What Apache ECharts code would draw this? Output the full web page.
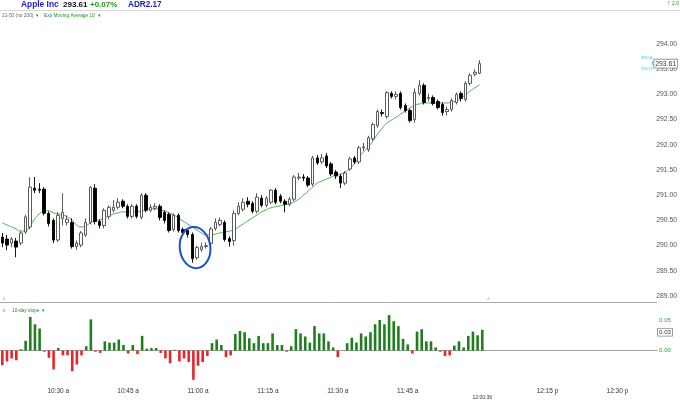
<!DOCTYPE html>
<html><head><meta charset="utf-8">
<script src="https://cdn.jsdelivr.net/npm/echarts@6/dist/echarts.min.js"></script>
<style>html,body{margin:0;padding:0;background:#fff}#c{width:680px;height:400px}</style>
</head><body><div id="c"></div>
<script>
// ---- data (1-minute bars, first bar 10:18) ----
const opens = [290.17,290.13,290.05,290.09,290.05,290.27,290.37,291.14,291.12,291.12,
290.64,290.50,290.11,290.54,290.46,290.46,289.98,290.01,290.21,290.46,
291.14,290.48,290.40,290.58,290.70,290.76,290.88,290.78,290.58,290.78,
290.56,291.00,290.70,290.74,290.78,290.66,290.62,290.32,290.60,290.32,
290.30,290.22,289.76,289.92,289.98,290.04,290.34,290.42,290.46,290.14,
290.10,290.64,290.72,290.88,290.84,290.68,290.94,290.80,290.86,291.10,
290.98,290.88,290.82,290.92,291.34,291.36,291.34,291.22,291.74,291.66,
291.78,291.62,291.46,291.38,291.24,291.52,291.74,291.66,291.94,291.90,
292.12,292.38,292.64,292.56,293.02,292.96,293.02,292.78,292.68,292.50,
293.02,293.18,292.92,292.94,292.86,292.80,292.66,292.70,292.84,293.02,
292.90,293.22,293.40,293.42];
const closes = [290.05,290.01,290.13,289.97,290.25,290.57,291.16,291.10,291.10,290.64,
290.44,290.11,290.60,290.66,290.52,289.98,290.05,290.25,290.46,291.16,
290.48,290.40,290.70,290.76,290.76,290.86,290.78,290.58,290.78,290.58,
291.00,290.70,290.76,290.78,290.56,290.50,290.30,290.60,290.30,290.26,
290.22,289.74,289.96,289.98,290.00,290.33,290.46,290.50,290.12,290.08,
290.64,290.78,290.86,290.82,290.68,290.96,290.80,290.94,291.10,290.86,
290.88,290.82,290.92,291.36,291.36,291.34,291.20,291.74,291.64,291.74,
291.58,291.42,291.38,291.24,291.44,291.72,291.66,291.94,291.96,292.14,
292.40,292.66,292.62,293.04,292.96,293.00,292.74,292.68,292.48,293.04,
293.18,292.84,292.94,292.82,292.74,292.64,292.70,292.88,293.00,292.92,
293.22,293.38,293.44,293.61];
const lows = [289.97,289.91,289.97,289.77,290.01,290.23,290.33,291.04,291.04,290.60,
290.38,290.05,290.07,290.40,290.40,289.94,289.92,289.97,290.17,290.42,
290.42,290.34,290.34,290.52,290.66,290.72,290.74,290.54,290.54,290.54,
290.52,290.66,290.66,290.70,290.50,290.44,290.26,290.28,290.26,290.20,
290.16,289.66,289.72,289.88,289.94,290.00,290.30,290.38,290.08,289.98,
290.00,290.60,290.68,290.76,290.64,290.64,290.76,290.76,290.82,290.82,
290.84,290.66,290.78,290.88,291.30,291.28,291.16,291.18,291.60,291.62,
291.54,291.38,291.32,291.14,291.20,291.48,291.62,291.62,291.88,291.86,
292.08,292.34,292.56,292.52,292.92,292.90,292.70,292.64,292.44,292.44,
292.98,292.80,292.86,292.78,292.70,292.58,292.58,292.66,292.80,292.86,
292.86,293.18,293.36,293.40];
const highs = [290.25,290.21,290.17,290.15,290.29,290.61,291.36,291.36,291.24,291.16,
290.68,290.54,290.66,291.04,290.60,290.54,290.10,290.29,290.54,291.18,
291.22,290.52,290.74,290.80,290.90,290.94,290.92,290.82,290.82,290.82,
291.04,291.04,290.82,290.84,290.82,290.70,290.66,290.64,290.64,290.36,
290.34,290.26,290.00,290.06,290.06,290.37,290.54,290.56,290.50,290.18,
290.70,290.86,290.94,290.96,290.88,291.04,291.00,290.98,291.12,291.14,
291.02,290.92,290.96,291.40,291.44,291.42,291.38,291.78,291.80,291.82,
291.84,291.66,291.50,291.42,291.48,291.76,291.78,291.98,292.04,292.18,
292.44,292.70,292.70,293.06,293.06,293.06,293.06,292.82,292.72,293.12,
293.28,293.22,293.02,292.98,292.90,292.84,292.76,292.92,293.04,293.06,
293.26,293.42,293.50,293.68];
const ema10 = [290.45,290.41,290.37,290.33,290.29,290.29,290.39,290.53,290.63,290.69,
290.69,290.65,290.63,290.61,290.57,290.51,290.41,290.37,290.39,290.45,
290.49,290.51,290.55,290.59,290.63,290.65,290.67,290.67,290.67,290.67,
290.69,290.71,290.73,290.73,290.71,290.69,290.65,290.61,290.55,290.49,
290.43,290.37,290.31,290.25,290.21,290.21,290.23,290.25,290.27,290.29,
290.31,290.37,290.43,290.49,290.55,290.61,290.67,290.71,290.75,290.77,
290.79,290.81,290.83,290.87,290.92,291.00,291.08,291.16,291.24,291.28,
291.32,291.36,291.40,291.42,291.46,291.54,291.62,291.76,291.86,291.96,
292.08,292.21,292.33,292.43,292.49,292.55,292.61,292.67,292.73,292.79,
292.81,292.83,292.83,292.83,292.83,292.83,292.83,292.85,292.87,292.93,
292.99,293.07,293.13,293.19];
const slope10 = [-0.024,-0.018,-0.013,-0.016,0.002,0.016,0.055,0.043,0.036,-0.002,
-0.012,-0.031,0.004,-0.008,-0.008,-0.034,-0.023,-0.008,0.007,0.051,
-0.002,-0.004,0.015,0.013,0.013,0.018,0.009,-0.005,0.009,-0.006,
0.024,0.003,0.004,0.004,-0.004,-0.013,-0.021,0.001,-0.018,-0.013,
-0.019,-0.048,-0.025,-0.019,-0.009,0.012,0.018,0.009,-0.011,-0.008,
0.027,0.032,0.030,0.020,0.012,0.024,0.012,0.012,0.028,0.009,
0.009,-0.002,0.007,0.035,0.028,0.023,0.013,0.040,0.028,0.028,
0.015,0.005,-0.011,0.000,0.012,0.021,0.013,0.028,0.023,0.030,
0.043,0.050,0.043,0.058,0.048,0.040,0.019,0.010,-0.005,0.031,
0.035,0.015,0.015,0.005,-0.002,-0.009,-0.008,0.008,0.015,0.005,
0.024,0.031,0.025,0.034];
const slotCount = 141;                 // one slot per minute, 10:18 .. 12:38
const timeLabelSlots = [12,27,42,57,72,87,103,117,132];
const timeLabels = ['10:30 a','10:45 a','11:00 a','11:15 a','11:30 a','11:45 a','12:00:39','12:15 p','12:30 p'];
const nowLabel = '12:00:39';
const bidAsk = ['293.64','293.57'];
const lastSlopeText = '0.03';
const circledSlot = 41.6, circledPrice = 289.96;

// ---- chart ----
const chart = echarts.init(document.getElementById('c'));
const slots = Array.from({length: slotCount}, (_, i) => String(i));
const labelAt = {};
timeLabelSlots.forEach((s, i) => labelAt[s] = timeLabels[i]);
const candleData = opens.map((o, i) => [o, closes[i], lows[i], highs[i]]);
const lastClose = closes[closes.length - 1];
const lastSlope = slope10[slope10.length - 1];
const FONT = 'Liberation Sans';
const GREEN = '#1f7f1f', RED = '#e8242b', LGREEN = '#3f9a3f';

const boxLabel = (text, size, dist) => ({
  show: true, position: 'end', distance: dist, formatter: () => text, fontSize: size, color: '#333',
  backgroundColor: '#fff', borderColor: '#888', borderWidth: 0.8, padding: [1, 1, 0, 1], fontFamily: FONT
});

const option = {
  animation: false,
  backgroundColor: '#ffffff',
  textStyle: {fontFamily: FONT},
  grid: [
    {left: 0, width: 657, top: 18.8, height: 302.4},
    {left: 0, width: 657, top: 289.5, height: 93}
  ],
  xAxis: [
    {type: 'category', gridIndex: 0, data: slots, boundaryGap: true, show: false},
    {type: 'category', gridIndex: 1, data: slots, boundaryGap: true,
     axisLine: {show: true, lineStyle: {color: '#a0a0a0', width: 1}},
     axisTick: {show: false},
     axisLabel: {
       interval: (i) => labelAt[i] !== undefined,
       formatter: (v, i) => labelAt[i] === nowLabel ? '{s|' + labelAt[i] + '}' : (labelAt[i] || ''),
       fontSize: 6.5, color: '#333', margin: 7, fontFamily: FONT,
       rich: {s: {fontSize: 5, color: '#333', padding: [7, 0, 0, 0], fontFamily: FONT}}
     }}
  ],
  yAxis: [
    {type: 'value', gridIndex: 0, position: 'right', min: 288.5, max: 294.5, interval: 0.5,
     splitLine: {show: false}, axisLine: {show: false}, axisTick: {show: false},
     axisLabel: {showMinLabel: false, showMaxLabel: false, formatter: v => v.toFixed(2),
                 fontSize: 6.8, color: '#555', margin: 3, fontFamily: FONT}},
    {type: 'value', gridIndex: 1, position: 'right', min: -0.05, max: 0.10, interval: 0.05,
     splitLine: {show: false}, axisLine: {show: false}, axisTick: {show: false},
     axisLabel: {showMinLabel: false, showMaxLabel: false, formatter: v => v.toFixed(2),
                 fontSize: 6.2, color: LGREEN, margin: 2, fontFamily: FONT}}
  ],
  series: [
    {type: 'candlestick', xAxisIndex: 0, yAxisIndex: 0, data: candleData, barWidth: 3,
     itemStyle: {color: '#ffffff', color0: '#000000', borderColor: '#4a4a4a', borderColor0: '#000000', borderWidth: 0.9},
     markLine: {silent: true, symbol: ['none', 'none'], animation: false,
       lineStyle: {color: 'rgba(0,0,0,0)', width: 1, type: 'solid'},
       label: boxLabel(lastClose.toFixed(2), 6.8, 1),
       data: [{yAxis: lastClose}]}
    },
    {type: 'line', xAxisIndex: 0, yAxisIndex: 0, data: ema10, smooth: true, showSymbol: false,
     lineStyle: {color: '#52a852', width: 1}, z: 1},
    {type: 'bar', xAxisIndex: 1, yAxisIndex: 1, barWidth: 2.6,
     data: slope10.map(v => ({value: v, itemStyle: {color: v >= 0 ? GREEN : RED}})),
     markLine: {silent: true, symbol: ['none', 'none'], animation: false,
       lineStyle: {color: 'rgba(0,0,0,0)', width: 1, type: 'solid'},
       label: boxLabel(lastSlopeText, 6.2, 1),
       data: [{yAxis: lastSlope}]}
    }
  ]
};
chart.setOption(option);

// annotations / header
const p41 = chart.convertToPixel({xAxisIndex: 0, yAxisIndex: 0}, [41, circledPrice]);
const p42 = chart.convertToPixel({xAxisIndex: 0, yAxisIndex: 0}, [42, circledPrice + 0.41]);
const slotW = p42[0] - p41[0];
const cx = p41[0] + (circledSlot - 41) * slotW;
const cy = p41[1];
const ry = cy - p42[1];
const rx = slotW * 3.3;
const pLast = chart.convertToPixel({xAxisIndex: 0, yAxisIndex: 0}, [0, lastClose]);

chart.setOption({
  graphic: [
    {type: 'line', shape: {x1: 0, y1: 10.5, x2: 680, y2: 10.5}, style: {stroke: '#d8d8d8', lineWidth: 1}},
    {type: 'line', shape: {x1: 0, y1: 302.5, x2: 657, y2: 302.5}, style: {stroke: '#a8a8a8', lineWidth: 1}},
    {type: 'text', left: 21, top: 1, style: {text: 'Apple Inc', fill: '#1c1ccc', font: 'bold 8.4px ' + FONT}},
    {type: 'text', left: 63, top: 1, style: {text: '293.61', fill: '#111', font: 'bold 8px ' + FONT}},
    {type: 'text', left: 90, top: 1, style: {text: '+0.07%', fill: '#1e9a1e', font: 'bold 8px ' + FONT}},
    {type: 'text', left: 128, top: 1, style: {text: 'ADR2.17', fill: '#1c1ccc', font: 'bold 8.2px ' + FONT}},
    {type: 'text', left: 2, top: 13, style: {text: '21-50 (no 200)  \u25BE', fill: '#666', font: '4.8px ' + FONT}},
    {type: 'text', left: 44, top: 13, style: {text: 'Exp Moving Average 10  \u25BE', fill: '#2e8b2e', font: '4.8px ' + FONT}},
    {type: 'text', left: 667, top: 0, style: {text: '\u2191', fill: '#1e9a1e', font: 'bold 7px ' + FONT}},
    {type: 'text', left: 672, top: 1, style: {text: '2.0', fill: '#1e9a1e', font: '5px ' + FONT}},
    {type: 'text', left: 2, top: 296, style: {text: '\u21B3', fill: '#aaa', font: '5px ' + FONT}},
    {type: 'text', left: 487, top: 297, style: {text: '\u02C4', fill: '#999', font: '5px ' + FONT}},
    {type: 'text', left: 3, top: 308, style: {text: 'x', fill: '#777', font: '5px ' + FONT}},
    {type: 'text', left: 12, top: 308, style: {text: '10-day slope  \u25BE', fill: '#2e8b2e', font: '4.8px ' + FONT}},
    {type: 'text', x: 641, y: pLast[1] - 8, style: {text: bidAsk[0], fill: '#22c4d8', font: '3.8px ' + FONT}},
    {type: 'text', x: 641, y: pLast[1] + 3, style: {text: bidAsk[1], fill: '#22c4d8', font: '3.8px ' + FONT}},
    {type: 'rect', shape: {x: 652.5, y: pLast[1] - 2, width: 3, height: 3}, style: {fill: '#fff', stroke: '#22c4d8', lineWidth: 0.8}},
    {type: 'ellipse', shape: {cx: cx, cy: cy, rx: rx, ry: ry}, rotation: 0.12, originX: cx, originY: cy,
     style: {fill: 'none', stroke: '#1f4fd6', lineWidth: 2}, z: 100}
  ]
});
</script>
</body></html>
